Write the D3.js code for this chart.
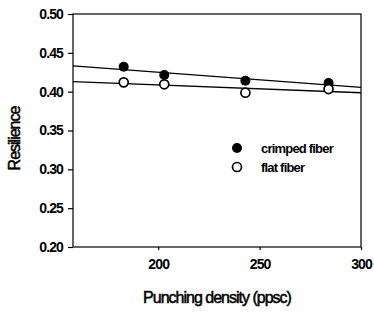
<!DOCTYPE html>
<html>
<head>
<meta charset="utf-8">
<script src="https://cdn.jsdelivr.net/npm/d3@7"></script>
<style>
  body { margin: 0; background: #fff; }
  text { font-family: "Liberation Sans", Arial, sans-serif; fill: #000; }
</style>
</head>
<body>
<script>
// punching density (ppsc) for each sample
let density = [183, 203, 243, 284];
let crimped = [0.432, 0.4215, 0.414, 0.411];
let flat = [0.412, 0.4095, 0.3987, 0.4034];
let xTicks = [200, 250, 300];
let yTicks = [0.20, 0.25, 0.30, 0.35, 0.40, 0.45, 0.50];
let legendLabels = ['crimped fiber', 'flat fiber'];

let marginLeft = 73,
  marginTop = 14,
  plotWidth = 288,
  plotHeight = 233;

let svg = d3.select('body').append('svg')
  .attr('width', 374)
  .attr('height', 313);

let x = d3.scaleLinear().domain([158, 300]).range([marginLeft, marginLeft + plotWidth]);
let y = d3.scaleLinear().domain([0.20, 0.50]).range([marginTop + plotHeight, marginTop]);

// frame
svg.append('rect')
  .attr('x', marginLeft)
  .attr('y', marginTop)
  .attr('width', plotWidth)
  .attr('height', plotHeight)
  .attr('fill', 'none')
  .attr('stroke', '#000')
  .attr('stroke-width', 1.2);

let yAxis = svg.append('g')
  .attr('transform', `translate(${marginLeft},0)`)
  .call(d3.axisLeft(y).tickValues(yTicks).tickFormat(d3.format('.2f')).tickSize(5).tickPadding(5));

let xAxis = svg.append('g')
  .attr('transform', `translate(0,${marginTop + plotHeight})`)
  .call(d3.axisBottom(x).tickValues(xTicks).tickSize(3).tickPadding(9));

[xAxis, yAxis].forEach(g => {
  g.select('.domain').remove();
  g.selectAll('line').attr('stroke', '#000').attr('stroke-width', 1.2);
  g.selectAll('text')
    .style('font-size', '14px')
    .style('letter-spacing', '-0.9px')
    .style('font-weight', 'bold')
    .attr('fill', '#000');
});

// least squares line through each series
function fit(ys) {
  let mx = d3.mean(density), my = d3.mean(ys);
  let sxy = d3.sum(density, (d, i) => (d - mx) * (ys[i] - my));
  let sxx = d3.sum(density, d => (d - mx) * (d - mx));
  let b = sxy / sxx;
  return x.domain().map(v => [v, my + b * (v - mx)]);
}

let line = d3.line().x(d => x(d[0])).y(d => y(d[1]));

[crimped, flat].forEach(s => {
  svg.append('path')
    .attr('d', line(fit(s)))
    .attr('fill', 'none')
    .attr('stroke', '#000')
    .attr('stroke-width', 1.3);
});

svg.selectAll('.crimped')
  .data(density)
  .enter().append('circle')
  .attr('cx', d => x(d))
  .attr('cy', (d, i) => y(crimped[i]))
  .attr('r', 5)
  .attr('fill', '#000');

svg.selectAll('.flat')
  .data(density)
  .enter().append('circle')
  .attr('cx', d => x(d))
  .attr('cy', (d, i) => y(flat[i]))
  .attr('r', 4.5)
  .attr('fill', '#fff')
  .attr('stroke', '#000')
  .attr('stroke-width', 1.7);

// legend
let legend = svg.append('g');
legendLabels.forEach((t, i) => {
  let ly = 148 + i * 19;
  legend.append('circle')
    .attr('cx', 237)
    .attr('cy', ly)
    .attr('r', i == 0 ? 5 : 4.5)
    .attr('fill', i == 0 ? '#000' : '#fff')
    .attr('stroke', '#000')
    .attr('stroke-width', i == 0 ? 0 : 1.7);
  legend.append('text')
    .attr('x', 261)
    .attr('y', ly)
    .attr('dy', '0.35em')
    .style('font-size', '13px')
    .style('font-weight', 'bold')
    .style('letter-spacing', '-0.8px')
    .text(t);
});

// axis titles
svg.append('text')
  .attr('x', marginLeft + plotWidth / 2)
  .attr('y', 303)
  .attr('text-anchor', 'middle')
  .style('font-size', '16px')
  .style('letter-spacing', '-1px')
  .attr('stroke', '#000')
  .attr('stroke-width', 0.5)
  .text('Punching density (ppsc)');

svg.append('text')
  .attr('transform', `translate(20,${marginTop + plotHeight / 2 + 8}) rotate(-90)`)
  .attr('text-anchor', 'middle')
  .style('font-size', '16px')
  .style('letter-spacing', '-1px')
  .attr('stroke', '#000')
  .attr('stroke-width', 0.5)
  .text('Resilience');
</script>
</body>
</html>
